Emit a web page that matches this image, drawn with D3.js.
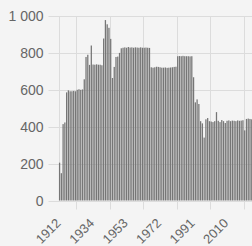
<!DOCTYPE html>
<html>
<head>
<meta charset="utf-8">
<script src="https://cdn.jsdelivr.net/npm/d3@7"></script>
<style>
  html, body { margin: 0; padding: 0; background: #f4f4f4; }
  svg { display: block; }
  text { font-family: "Liberation Sans", Arial, Helvetica, sans-serif; }
</style>
</head>
<body>
<svg id="chart" width="252" height="246"></svg>
<script>
const years = [1912, 1913,
  1917, 1918, 1919, 1920, 1921, 1922, 1923, 1924, 1925, 1926, 1927, 1928, 1929,
  1930, 1931, 1932, 1933, 1934, 1935, 1936, 1937, 1938, 1939, 1940, 1941, 1942,
  1943, 1944, 1945, 1946, 1947, 1948, 1949, 1950, 1951, 1952, 1953, 1954, 1955,
  1956, 1957, 1958, 1959, 1960, 1961, 1962, 1963, 1964, 1965, 1966, 1967, 1968,
  1969, 1970, 1971, 1972, 1973, 1974, 1975, 1976, 1977, 1978, 1979, 1980, 1981,
  1982, 1983, 1984, 1985, 1986, 1987, 1988, 1989, 1990, 1991, 1992, 1993, 1994,
  1995, 1996, 1997, 1998, 1999, 2000, 2001, 2002, 2003, 2004, 2005, 2006, 2007,
  2008, 2009, 2010, 2011, 2012, 2013, 2014, 2015, 2016, 2017, 2018, 2019, 2020,
  2021, 2022, 2023, 2024];

const values = [205, 148,
  414, 423, 586, 597, 592, 592, 594, 592, 600, 603, 600, 602, 657,
  778, 790, 735, 840, 737, 736, 738, 736, 736, 733, 878, 978, 955,
  936, 876, 664, 724, 778, 780, 800, 825, 828, 830, 828, 832, 829,
  830, 828, 830, 829, 828, 830, 828, 828, 829, 828, 827, 722, 720,
  722, 725, 724, 722, 720, 720, 721, 719, 720, 721, 722, 724, 725,
  782, 783, 782, 784, 782, 782, 782, 781, 782, 668, 532, 548, 523,
  430, 418, 341, 440, 447, 430, 428, 425, 430, 479, 432, 425, 436,
  430, 420, 432, 434, 430, 433, 432, 430, 434, 432, 433, 435, 380,
  442, 444, 442, 440];

const yTicks = [0, 200, 400, 600, 800, 1000];
const xTickLabels = [1912, 1934, 1953, 1972, 1991, 2010];

const svg = d3.select("#chart");
const plotLeft = 58.7, step = 1.763;
const plotRight = plotLeft + step * years.length;
const plotTop = 16, plotBottom = 200.5;

const x = d3.scaleBand().domain(years).range([plotLeft, plotRight])
  .paddingInner(0.28).paddingOuter(0.14);
const y = d3.scaleLinear().domain([0, 1000]).range([plotBottom, plotTop]);
const fmt = v => d3.format(",")(v).replace(/,/g, " ");
const center = yr => x(yr) + x.bandwidth() / 2;
const st = x.step();

const grid = "#dcdcdc";
svg.append("g").selectAll("line").data(yTicks).join("line")
  .attr("x1", 48.5).attr("x2", 252)
  .attr("y1", d => Math.round(y(d)) + 0.5).attr("y2", d => Math.round(y(d)) + 0.5)
  .attr("stroke", grid).attr("stroke-width", 1);

const idx = xTickLabels.map(v => years.indexOf(v));
const gx = [plotLeft];
idx.forEach((ii, k) => {
  const c = center(years[ii]);
  const n = k < idx.length - 1 ? center(years[idx[k + 1]]) : c + st * 19;
  gx.push((c + n) / 2);
});
svg.append("g").selectAll("line").data(gx).join("line")
  .attr("x1", d => Math.round(d) + 0.5).attr("x2", d => Math.round(d) + 0.5)
  .attr("y1", plotTop).attr("y2", (d, i) => i === 0 ? plotBottom : 209.5)
  .attr("stroke", grid).attr("stroke-width", 1);

svg.append("g").selectAll("rect").data(years).join("rect")
  .attr("x", d => x(d))
  .attr("width", x.bandwidth())
  .attr("y", (d, i) => y(values[i]))
  .attr("height", (d, i) => plotBottom - y(values[i]))
  .attr("fill", "#767676");

svg.append("g").selectAll("text").data(yTicks).join("text")
  .attr("x", 43.5).attr("y", d => y(d))
  .attr("dy", "0.36em")
  .attr("text-anchor", "end")
  .attr("font-size", 14).attr("fill", "#666")
  .text(fmt);

svg.append("g").selectAll("text").data(xTickLabels).join("text")
  .attr("text-anchor", "end")
  .attr("font-size", 13).attr("fill", "#666")
  .attr("transform", d => `translate(${center(d) + 2},224) rotate(-45)`)
  .text(d => d);
</script>
</body>
</html>
